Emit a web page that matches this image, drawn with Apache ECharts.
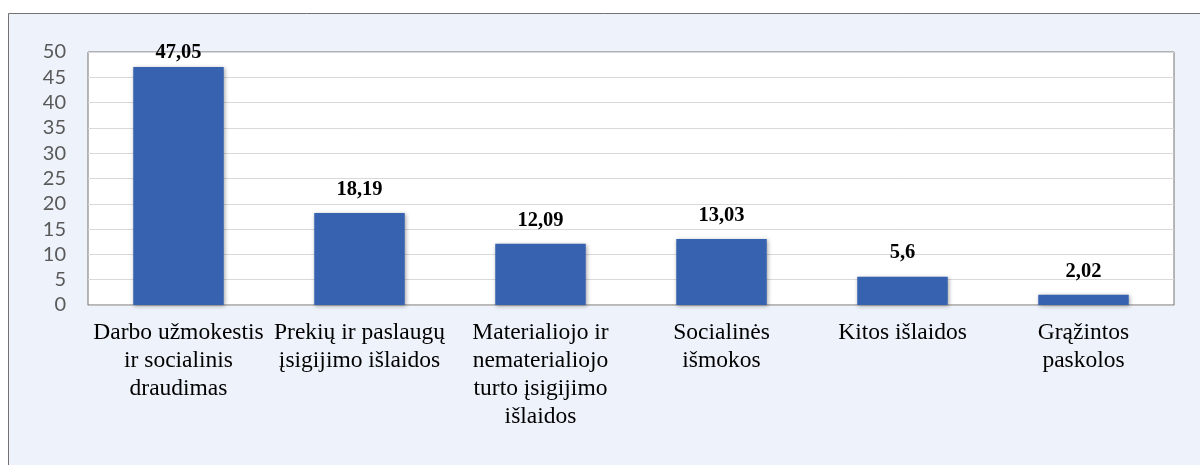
<!DOCTYPE html>
<html>
<head>
<meta charset="utf-8">
<script src="https://cdn.jsdelivr.net/npm/echarts@6/dist/echarts.min.js"></script>
<style>html,body{margin:0;padding:0;background:#fff}#c{width:1200px;height:465px}</style>
</head>
<body>
<div id="c"></div>
<script>
const categories = [
  "Darbo užmokestis\nir socialinis\ndraudimas",
  "Prekių ir paslaugų\nįsigijimo išlaidos",
  "Materialiojo ir\nnematerialiojo\nturto įsigijimo\nišlaidos",
  "Socialinės\nišmokos",
  "Kitos išlaidos",
  "Grąžintos\npaskolos"
];
const values = [47.05, 18.19, 12.09, 13.03, 5.6, 2.02];
const valueLabels = ["47,05", "18,19", "12,09", "13,03", "5,6", "2,02"];

const seriesData = values.map((v, i) => i === 0
  ? {value: v, label: {distance: 4}}
  : v);

const chart = echarts.init(document.getElementById('c'), null, {renderer: 'canvas'});
chart.setOption({
  backgroundColor: '#ffffff',
  animation: false,
  graphic: [{
    type: 'rect', z: -10, silent: true,
    shape: {x: 8.5, y: 13.5, width: 1200, height: 470},
    style: {fill: '#eef2fa', stroke: '#767171', lineWidth: 1}
  }],
  grid: {
    left: 88, top: 52, right: 26, bottom: 160,
    show: true, backgroundColor: '#ffffff', borderColor: '#767171', borderWidth: 1
  },
  xAxis: {
    type: 'category',
    data: categories,
    axisTick: {show: false},
    axisLine: {lineStyle: {color: '#bfbfbf', width: 1}},
    axisLabel: {
      interval: 0, margin: 14, color: '#000',
      fontFamily: '"Liberation Serif", "Times New Roman", serif',
      fontSize: 23.5, lineHeight: 28, align: 'center'
    }
  },
  yAxis: {
    type: 'value', min: 0, max: 50, interval: 5,
    axisLine: {show: false}, axisTick: {show: false},
    splitLine: {lineStyle: {color: '#d9d9d9', width: 1}},
    axisLabel: {
      color: '#595959', fontSize: 20, margin: 22,
      fontFamily: 'Lato, "Open Sans", sans-serif'
    }
  },
  series: [{
    type: 'bar',
    data: seriesData,
    barWidth: '50%',
    itemStyle: {
      color: '#3762b0',
      shadowBlur: 4, shadowColor: 'rgba(0,0,0,0.35)', shadowOffsetX: 1, shadowOffsetY: 1
    },
    label: {
      show: true, position: 'top', distance: 13,
      color: '#000', fontWeight: 'bold', fontSize: 20.5,
      fontFamily: '"Liberation Serif", "Times New Roman", serif',
      formatter: p => valueLabels[p.dataIndex]
    }
  }]
});
</script>
</body>
</html>
